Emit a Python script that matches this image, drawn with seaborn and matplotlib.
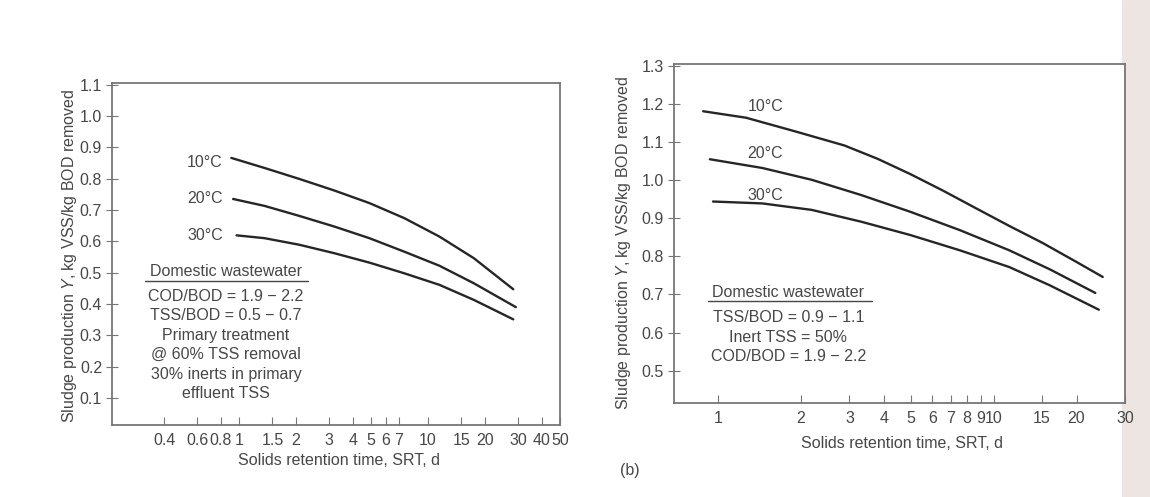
import numpy as np
import pandas as pd

import matplotlib
matplotlib.use("Agg")
import matplotlib.pyplot as plt
from matplotlib.patches import Rectangle
from matplotlib.ticker import FixedLocator, FixedFormatter, NullLocator
import seaborn as sns

# ---- data ----
temps = ["10°C", "20°C", "30°C"]

# panel (a)
a_srt_10 = [0.908, 1.36, 2.08, 3.19, 4.89, 7.48, 11.5, 17.5, 28.3]
a_y_10 = [0.866, 0.834, 0.799, 0.762, 0.722, 0.674, 0.615, 0.546, 0.447]
a_srt_20 = [0.928, 1.36, 2.08, 3.19, 4.89, 7.48, 11.5, 17.5, 29.2]
a_y_20 = [0.735, 0.713, 0.681, 0.647, 0.610, 0.567, 0.522, 0.466, 0.390]
a_srt_30 = [0.968, 1.36, 2.08, 3.19, 4.89, 7.48, 11.5, 17.5, 28.3]
a_y_30 = [0.619, 0.610, 0.589, 0.562, 0.532, 0.498, 0.461, 0.413, 0.351]

# panel (b)
b_srt_10 = [0.884, 1.265, 1.91, 2.88, 3.80, 4.99, 6.58, 8.65, 11.4, 15.0, 19.7, 24.9]
b_y_10 = [1.181, 1.164, 1.128, 1.091, 1.056, 1.016, 0.972, 0.926, 0.880, 0.836, 0.788, 0.746]
b_srt_20 = [0.935, 1.45, 2.19, 3.31, 4.99, 7.54, 11.4, 16.0, 23.4]
b_y_20 = [1.055, 1.032, 1.001, 0.961, 0.917, 0.869, 0.816, 0.766, 0.704]
b_srt_30 = [0.96, 1.45, 2.19, 3.31, 4.99, 7.54, 11.4, 16.0, 24.1]
b_y_30 = [0.944, 0.939, 0.922, 0.891, 0.856, 0.816, 0.772, 0.724, 0.660]

a_xticks = [0.4, 0.6, 0.8, 1, 1.5, 2, 3, 4, 5, 6, 7, 10, 15, 20, 30, 40, 50]
a_xlabels = ["0.4", "0.6", "0.8", "1", "1.5", "2", "3", "4", "5", "6", "7",
             "10", "15", "20", "30", "40", "50"]
a_yticks = [0.1, 0.2, 0.3, 0.4, 0.5, 0.6, 0.7, 0.8, 0.9, 1.0, 1.1]

b_xticks = [1, 2, 3, 4, 5, 6, 7, 8, 9, 10, 15, 20, 30]
b_xlabels = ["1", "2", "3", "4", "5", "6", "7", "8", "9", "10", "15", "20", "30"]
b_yticks = [0.5, 0.6, 0.7, 0.8, 0.9, 1.0, 1.1, 1.2, 1.3]

a_notes = ["COD/BOD = 1.9 \u2212 2.2", "TSS/BOD = 0.5 \u2212 0.7",
           "Primary treatment", "@ 60% TSS removal",
           "30% inerts in primary", "effluent TSS"]
b_notes = ["TSS/BOD = 0.9 \u2212 1.1", "Inert TSS = 50%",
           "COD/BOD = 1.9 \u2212 2.2"]


def frame(srts, ys):
    parts = []
    for t, s, y in zip(temps, srts, ys):
        parts.append(pd.DataFrame({"srt": s, "y": y, "temp": t}))
    return pd.concat(parts, ignore_index=True)


df_a = frame([a_srt_10, a_srt_20, a_srt_30], [a_y_10, a_y_20, a_y_30])
df_b = frame([b_srt_10, b_srt_20, b_srt_30], [b_y_10, b_y_20, b_y_30])

sns.set_style("ticks")
plt.rcParams["font.family"] = ["Liberation Sans", "DejaVu Sans"]
plt.rcParams["mathtext.fontset"] = "custom"
plt.rcParams["mathtext.it"] = "Liberation Sans:italic"
plt.rcParams["mathtext.rm"] = "Liberation Sans"

TXT = "#474747"
LINE = "#262626"
EDGE = "#767676"
FS = 11.5

fig = plt.figure(figsize=(11.5, 4.97), dpi=100)
fig.patches.append(Rectangle((0.976, 0), 0.024, 1, transform=fig.transFigure,
                             color="#ece5e1", zorder=-1))
ax1 = fig.add_axes([0.0978, 0.1449, 0.3891, 0.6881])
ax2 = fig.add_axes([0.5861, 0.1891, 0.3922, 0.6821])

for ax, df in [(ax1, df_a), (ax2, df_b)]:
    sns.lineplot(data=df, x="srt", y="y", hue="temp", units="temp",
                 estimator=None, sort=False, palette=[LINE] * 3,
                 legend=False, linewidth=1.7, ax=ax)
    ax.set_xscale("log")
    for sp in ax.spines.values():
        sp.set_color(EDGE)
        sp.set_linewidth(1.3)
    ax.xaxis.set_minor_locator(NullLocator())
    ax.tick_params(axis="x", direction="in", length=6, color=EDGE,
                   labelcolor=TXT, labelsize=FS, pad=5.5)
    ax.tick_params(axis="y", direction="inout", length=8, color=EDGE,
                   labelcolor=TXT, labelsize=FS, pad=3.5)
    ax.set_xlabel("Solids retention time, SRT, d", color=TXT, fontsize=FS)
    ax.set_ylabel("Sludge production $Y$, kg VSS/kg BOD removed", color=TXT,
                  fontsize=FS)

ax1.xaxis.set_label_coords(0.506, -0.082)
ax1.yaxis.set_label_coords(-0.075, 0.494)
ax2.xaxis.set_label_coords(0.506, -0.097)
ax2.yaxis.set_label_coords(-0.091, 0.472)

# panel (a)
ax1.set_xlim(0.213, 50)
ax1.set_ylim(0.014, 1.105)
ax1.xaxis.set_major_locator(FixedLocator(a_xticks))
ax1.xaxis.set_major_formatter(FixedFormatter(a_xlabels))
ax1.set_yticks(a_yticks)
ax1.set_yticklabels([f"{v:.1f}" for v in a_yticks])
for t, y in zip(temps, [0.85, 0.738, 0.618]):
    ax1.text(0.82, y, t, ha="right", va="center", color=TXT, fontsize=FS)
ax1.text(0.85, 0.504, "Domestic wastewater", ha="center", va="center",
         color=TXT, fontsize=FS)
ax1.plot([0.318, 2.32], [0.472, 0.472], color=TXT, lw=1.0)
for i, s in enumerate(a_notes):
    ax1.text(0.85, 0.424 - i * 0.062, s, ha="center", va="center",
             color=TXT, fontsize=FS)

# panel (b)
ax2.set_xlim(0.693, 30)
ax2.set_ylim(0.415, 1.305)
ax2.xaxis.set_major_locator(FixedLocator(b_xticks))
ax2.xaxis.set_major_formatter(FixedFormatter(b_xlabels))
ax2.set_yticks(b_yticks)
ax2.set_yticklabels([f"{v:.1f}" for v in b_yticks])
for t, y in zip(temps, [1.194, 1.069, 0.961]):
    ax2.text(1.28, y, t, ha="left", va="center", color=TXT, fontsize=FS)
ax2.text(1.8, 0.706, "Domestic wastewater", ha="center", va="center",
         color=TXT, fontsize=FS)
ax2.plot([0.92, 3.63], [0.683, 0.683], color=TXT, lw=1.0)
for i, s in enumerate(b_notes):
    ax2.text(1.8, 0.639 - i * 0.051, s, ha="center", va="center",
             color=TXT, fontsize=FS)

fig.text(630 / 1150, 1 - 471 / 497, "(b)", ha="center", va="center",
         color=TXT, fontsize=FS)

fig.savefig("out.png", dpi=100, facecolor="white")
